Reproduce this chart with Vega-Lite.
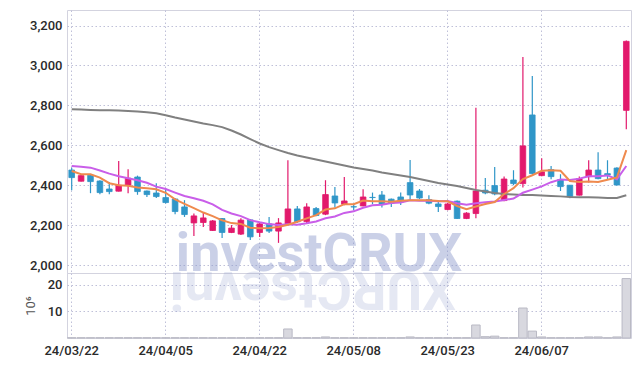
{
  "$schema": "https://vega.github.io/schema/vega-lite/v6.json",
  "padding": {"left": 23, "top": 9, "right": 5, "bottom": 5},
  "background": "white",
  "spacing": 0,
  "bounds": "flush",
  "datasets": {
    "k": [
      {"d":"24/03/22","o":2476,"h":2488,"l":2375,"c":2438,"m5":2471,"m10":2496,"m60":2781,"v":0.1},
      {"d":"24/03/25","o":2420,"h":2450,"l":2418,"c":2448,"m5":2455,"m10":2493,"m60":2779,"v":0.1},
      {"d":"24/03/26","o":2450,"h":2452,"l":2360,"c":2418,"m5":2455,"m10":2488,"m60":2777,"v":0.1},
      {"d":"24/03/27","o":2421,"h":2425,"l":2355,"c":2363,"m5":2438,"m10":2474,"m60":2776,"v":0.1},
      {"d":"24/03/28","o":2381,"h":2416,"l":2355,"c":2368,"m5":2410,"m10":2458,"m60":2775,"v":0.1},
      {"d":"24/03/29","o":2370,"h":2521,"l":2368,"c":2400,"m5":2400,"m10":2445,"m60":2774,"v":0.1},
      {"d":"24/04/01","o":2400,"h":2480,"l":2360,"c":2435,"m5":2397,"m10":2435,"m60":2772,"v":0.1},
      {"d":"24/04/02","o":2441,"h":2448,"l":2352,"c":2368,"m5":2388,"m10":2425,"m60":2769,"v":0.1},
      {"d":"24/04/03","o":2371,"h":2373,"l":2341,"c":2353,"m5":2385,"m10":2412,"m60":2766,"v":0.1},
      {"d":"24/04/04","o":2361,"h":2410,"l":2336,"c":2343,"m5":2380,"m10":2393,"m60":2761,"v":0.1},
      {"d":"24/04/05","o":2338,"h":2383,"l":2308,"c":2313,"m5":2362,"m10":2381,"m60":2751,"v":0.1},
      {"d":"24/04/08","o":2331,"h":2335,"l":2255,"c":2268,"m5":2329,"m10":2363,"m60":2739,"v":0.1},
      {"d":"24/04/09","o":2291,"h":2325,"l":2241,"c":2253,"m5":2306,"m10":2346,"m60":2729,"v":0.1},
      {"d":"24/04/11","o":2211,"h":2258,"l":2146,"c":2246,"m5":2285,"m10":2335,"m60":2719,"v":0.1},
      {"d":"24/04/12","o":2213,"h":2266,"l":2190,"c":2236,"m5":2263,"m10":2322,"m60":2709,"v":0.1},
      {"d":"24/04/15","o":2173,"h":2225,"l":2170,"c":2221,"m5":2245,"m10":2304,"m60":2701,"v":0.1},
      {"d":"24/04/16","o":2233,"h":2236,"l":2135,"c":2163,"m5":2224,"m10":2276,"m60":2691,"v":0.1},
      {"d":"24/04/17","o":2163,"h":2200,"l":2160,"c":2185,"m5":2210,"m10":2258,"m60":2674,"v":0.1},
      {"d":"24/04/18","o":2155,"h":2235,"l":2150,"c":2225,"m5":2206,"m10":2245,"m60":2654,"v":0.1},
      {"d":"24/04/19","o":2226,"h":2230,"l":2125,"c":2141,"m5":2187,"m10":2225,"m60":2631,"v":0.1},
      {"d":"24/04/22","o":2163,"h":2211,"l":2141,"c":2206,"m5":2184,"m10":2214,"m60":2609,"v":0.1},
      {"d":"24/04/23","o":2206,"h":2241,"l":2160,"c":2170,"m5":2185,"m10":2205,"m60":2591,"v":0.1},
      {"d":"24/04/24","o":2170,"h":2235,"l":2111,"c":2211,"m5":2191,"m10":2200,"m60":2576,"v":0.1},
      {"d":"24/04/25","o":2206,"h":2525,"l":2200,"c":2281,"m5":2202,"m10":2204,"m60":2561,"v":3.4},
      {"d":"24/04/26","o":2281,"h":2296,"l":2210,"c":2217,"m5":2217,"m10":2202,"m60":2549,"v":0.1},
      {"d":"24/04/29","o":2218,"h":2310,"l":2205,"c":2291,"m5":2234,"m10":2209,"m60":2539,"v":0.1},
      {"d":"24/04/30","o":2283,"h":2291,"l":2245,"c":2248,"m5":2250,"m10":2218,"m60":2529,"v":0.1},
      {"d":"24/05/02","o":2255,"h":2425,"l":2250,"c":2353,"m5":2278,"m10":2234,"m60":2519,"v":0.4},
      {"d":"24/05/03","o":2346,"h":2391,"l":2288,"c":2311,"m5":2284,"m10":2243,"m60":2509,"v":0.1},
      {"d":"24/05/07","o":2305,"h":2441,"l":2300,"c":2321,"m5":2305,"m10":2261,"m60":2499,"v":0.1},
      {"d":"24/05/08","o":2292,"h":2305,"l":2275,"c":2291,"m5":2305,"m10":2269,"m60":2489,"v":0.1},
      {"d":"24/05/09","o":2296,"h":2380,"l":2295,"c":2341,"m5":2323,"m10":2287,"m60":2481,"v":0.1},
      {"d":"24/05/10","o":2339,"h":2363,"l":2305,"c":2338,"m5":2320,"m10":2299,"m60":2474,"v":0.1},
      {"d":"24/05/13","o":2351,"h":2371,"l":2288,"c":2305,"m5":2319,"m10":2302,"m60":2464,"v":0.1},
      {"d":"24/05/14","o":2330,"h":2333,"l":2291,"c":2310,"m5":2317,"m10":2311,"m60":2456,"v":0.1},
      {"d":"24/05/16","o":2341,"h":2363,"l":2301,"c":2316,"m5":2322,"m10":2313,"m60":2449,"v":0.1},
      {"d":"24/05/17","o":2413,"h":2526,"l":2321,"c":2351,"m5":2324,"m10":2324,"m60":2441,"v":0.4},
      {"d":"24/05/20","o":2371,"h":2381,"l":2330,"c":2336,"m5":2324,"m10":2322,"m60":2431,"v":0.1},
      {"d":"24/05/21","o":2328,"h":2350,"l":2305,"c":2310,"m5":2325,"m10":2322,"m60":2421,"v":0.1},
      {"d":"24/05/22","o":2306,"h":2325,"l":2266,"c":2293,"m5":2321,"m10":2319,"m60":2411,"v":0.1},
      {"d":"24/05/23","o":2278,"h":2311,"l":2275,"c":2306,"m5":2319,"m10":2321,"m60":2404,"v":0.1},
      {"d":"24/05/24","o":2320,"h":2323,"l":2230,"c":2233,"m5":2296,"m10":2310,"m60":2396,"v":0.1},
      {"d":"24/05/27","o":2233,"h":2265,"l":2230,"c":2260,"m5":2280,"m10":2302,"m60":2386,"v":0.1},
      {"d":"24/05/28","o":2258,"h":2788,"l":2235,"c":2371,"m5":2293,"m10":2309,"m60":2376,"v":4.9},
      {"d":"24/05/29","o":2375,"h":2436,"l":2355,"c":2361,"m5":2306,"m10":2314,"m60":2369,"v":0.5},
      {"d":"24/05/30","o":2398,"h":2491,"l":2350,"c":2356,"m5":2316,"m10":2318,"m60":2361,"v":0.7},
      {"d":"24/05/31","o":2323,"h":2443,"l":2320,"c":2431,"m5":2356,"m10":2326,"m60":2356,"v":0.1},
      {"d":"24/06/03","o":2426,"h":2475,"l":2400,"c":2408,"m5":2385,"m10":2333,"m60":2354,"v":0.1},
      {"d":"24/06/04","o":2408,"h":3042,"l":2388,"c":2597,"m5":2431,"m10":2362,"m60":2351,"v":11.3},
      {"d":"24/06/05","o":2752,"h":2947,"l":2455,"c":2458,"m5":2450,"m10":2378,"m60":2351,"v":2.6},
      {"d":"24/06/07","o":2448,"h":2535,"l":2445,"c":2467,"m5":2472,"m10":2394,"m60":2349,"v":0.4},
      {"d":"24/06/10","o":2478,"h":2496,"l":2430,"c":2443,"m5":2475,"m10":2415,"m60":2346,"v":0.1},
      {"d":"24/06/11","o":2428,"h":2455,"l":2371,"c":2393,"m5":2472,"m10":2429,"m60":2344,"v":0.1},
      {"d":"24/06/12","o":2400,"h":2400,"l":2335,"c":2343,"m5":2421,"m10":2426,"m60":2341,"v":0.1},
      {"d":"24/06/13","o":2350,"h":2443,"l":2348,"c":2433,"m5":2416,"m10":2433,"m60":2340,"v":0.1},
      {"d":"24/06/14","o":2443,"h":2525,"l":2413,"c":2476,"m5":2418,"m10":2445,"m60":2339,"v":0.4},
      {"d":"24/06/17","o":2476,"h":2565,"l":2430,"c":2433,"m5":2416,"m10":2445,"m60":2338,"v":0.4},
      {"d":"24/06/18","o":2458,"h":2525,"l":2430,"c":2451,"m5":2427,"m10":2449,"m60":2336,"v":0.1},
      {"d":"24/06/19","o":2486,"h":2490,"l":2398,"c":2401,"m5":2439,"m10":2430,"m60":2336,"v":0.4},
      {"d":"24/06/20","o":2775,"h":3125,"l":2680,"c":3121,"m5":2576,"m10":2496,"m60":2350,"v":22.4}
    ]
  },
  "vconcat": [
    {
      "width": 564,
      "height": 263,
      "layer": [
        {
          "data": {"values": [{}]},
          "mark": {"type": "text", "text": "investCRUX", "font": "Roboto", "fontWeight": "bold", "fontSize": 54, "color": "#8c99cc", "opacity": 0.45, "baseline": "alphabetic", "align": "center", "dx": 3, "dy": -2},
          "encoding": {
            "x": {"datum": "24/04/30", "type": "ordinal", "scale": {"domain": ["24/03/22","24/03/25","24/03/26","24/03/27","24/03/28","24/03/29","24/04/01","24/04/02","24/04/03","24/04/04","24/04/05","24/04/08","24/04/09","24/04/11","24/04/12","24/04/15","24/04/16","24/04/17","24/04/18","24/04/19","24/04/22","24/04/23","24/04/24","24/04/25","24/04/26","24/04/29","24/04/30","24/05/02","24/05/03","24/05/07","24/05/08","24/05/09","24/05/10","24/05/13","24/05/14","24/05/16","24/05/17","24/05/20","24/05/21","24/05/22","24/05/23","24/05/24","24/05/27","24/05/28","24/05/29","24/05/30","24/05/31","24/06/03","24/06/04","24/06/05","24/06/07","24/06/10","24/06/11","24/06/12","24/06/13","24/06/14","24/06/17","24/06/18","24/06/19","24/06/20"], "paddingInner": 0, "paddingOuter": 0}, "axis": {"values": ["24/03/22","24/04/05","24/04/22","24/05/08","24/05/23","24/06/07"], "grid": true, "labels": false, "title": null, "bandPosition": 0.5}},
            "y": {"datum": 1960, "type": "quantitative", "scale": {"domain": [1960, 3278], "nice": false, "zero": false}, "axis": {"values": [2000,2200,2400,2600,2800,3000,3200], "labelExpr": "format(datum.value, ',')", "title": null, "grid": true}}
          }
        },
        {
          "data": {"name": "k"},
          "mark": {"type": "rule", "strokeWidth": 1.2},
          "encoding": {
            "x": {"field": "d", "type": "ordinal", "sort": null},
            "y": {"field": "l", "type": "quantitative", "axis": {"values": [2000,2200,2400,2600,2800,3000,3200], "labelExpr": "format(datum.value, ',')", "title": null, "grid": true}},
            "y2": {"field": "h"},
            "color": {"condition": {"test": "datum.c >= datum.o", "value": "#e2196c"}, "value": "#2f96c8"}
          }
        },
        {
          "data": {"name": "k"},
          "mark": {"type": "bar", "width": {"band": 0.6}, "strokeWidth": 0.8},
          "encoding": {
            "x": {"field": "d", "type": "ordinal", "sort": null},
            "y": {"field": "o", "type": "quantitative", "axis": {"values": [2000,2200,2400,2600,2800,3000,3200], "labelExpr": "format(datum.value, ',')", "title": null, "grid": true}},
            "y2": {"field": "c"},
            "color": {"condition": {"test": "datum.c >= datum.o", "value": "#e2196c"}, "value": "#2f96c8"},
            "stroke": {"condition": {"test": "datum.c >= datum.o", "value": "#e2196c"}, "value": "#2f96c8"}
          }
        },
        {
          "data": {"name": "k"},
          "mark": {"type": "line", "color": "#808080", "strokeWidth": 2},
          "encoding": {
            "x": {"field": "d", "type": "ordinal", "sort": null},
            "y": {"field": "m60", "type": "quantitative", "axis": {"values": [2000,2200,2400,2600,2800,3000,3200], "labelExpr": "format(datum.value, ',')", "title": null, "grid": true}}
          }
        },
        {
          "data": {"name": "k"},
          "mark": {"type": "line", "color": "#c95ee9", "strokeWidth": 2},
          "encoding": {
            "x": {"field": "d", "type": "ordinal", "sort": null},
            "y": {"field": "m10", "type": "quantitative", "axis": {"values": [2000,2200,2400,2600,2800,3000,3200], "labelExpr": "format(datum.value, ',')", "title": null, "grid": true}}
          }
        },
        {
          "data": {"name": "k"},
          "mark": {"type": "line", "color": "#ef8a4e", "strokeWidth": 2},
          "encoding": {
            "x": {"field": "d", "type": "ordinal", "sort": null},
            "y": {"field": "m5", "type": "quantitative", "axis": {"values": [2000,2200,2400,2600,2800,3000,3200], "labelExpr": "format(datum.value, ',')", "title": null, "grid": true}}
          }
        }
      ]
    },
    {
      "width": 564,
      "height": 65,
      "layer": [
        {
          "data": {"values": [{}]},
          "mark": {"type": "text", "text": "XURCtsevni", "font": "Roboto", "fontWeight": "bold", "fontSize": 54, "angle": 180, "color": "#8c99cc", "opacity": 0.22, "baseline": "alphabetic", "align": "center", "dx": 3, "dy": 1},
          "encoding": {
            "x": {"datum": "24/04/30", "type": "ordinal", "scale": {"domain": ["24/03/22","24/03/25","24/03/26","24/03/27","24/03/28","24/03/29","24/04/01","24/04/02","24/04/03","24/04/04","24/04/05","24/04/08","24/04/09","24/04/11","24/04/12","24/04/15","24/04/16","24/04/17","24/04/18","24/04/19","24/04/22","24/04/23","24/04/24","24/04/25","24/04/26","24/04/29","24/04/30","24/05/02","24/05/03","24/05/07","24/05/08","24/05/09","24/05/10","24/05/13","24/05/14","24/05/16","24/05/17","24/05/20","24/05/21","24/05/22","24/05/23","24/05/24","24/05/27","24/05/28","24/05/29","24/05/30","24/05/31","24/06/03","24/06/04","24/06/05","24/06/07","24/06/10","24/06/11","24/06/12","24/06/13","24/06/14","24/06/17","24/06/18","24/06/19","24/06/20"], "paddingInner": 0, "paddingOuter": 0}, "axis": {"values": ["24/03/22","24/04/05","24/04/22","24/05/08","24/05/23","24/06/07"], "grid": true, "labels": true, "labelAngle": 0, "labelAlign": "center", "labelBaseline": "top", "labelPadding": 6, "title": null, "bandPosition": 0.5}},
            "y": {"datum": 24.5, "type": "quantitative", "scale": {"domain": [0, 24.5], "nice": false}, "axis": {"values": [10, 20], "title": "10⁶", "titlePadding": 10, "grid": true}}
          }
        },
        {
          "data": {"name": "k"},
          "mark": {"type": "bar", "width": {"band": 0.9}, "color": "#d8d8df", "stroke": "#b9b9c4", "strokeWidth": 1},
          "encoding": {
            "x": {"field": "d", "type": "ordinal", "sort": null},
            "y": {"field": "v", "type": "quantitative", "axis": {"values": [10, 20], "title": "10⁶", "titlePadding": 10, "grid": true}}
          }
        }
      ]
    }
  ],
  "config": {
    "view": {"stroke": "#d3d3df"},
    "axis": {
      "gridColor": "#bfc0d8",
      "gridOpacity": 1,
      "gridDash": [1.5, 2.5],
      "gridWidth": 1,
      "domain": false,
      "ticks": false,
      "labelFont": "Roboto",
      "labelFontSize": 13,
      "labelFontWeight": 500,
      "labelColor": "#2a2a2a",
      "labelPadding": 5,
      "titleFont": "Roboto",
      "titleFontSize": 13,
      "titleFontWeight": "normal",
      "titleColor": "#555555"
    },
    "axisX": {"labelAngle": 0}
  }
}
